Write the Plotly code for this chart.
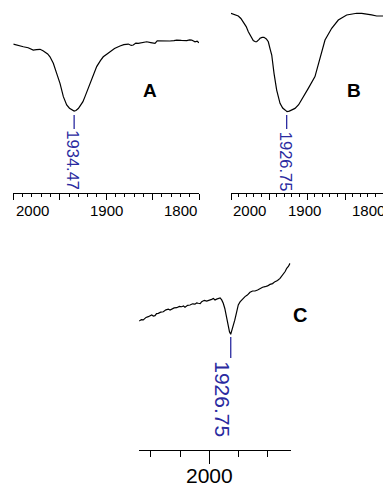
import plotly.graph_objects as go

# ---------------- data ----------------
# Panel A (wavenumber cm-1, %T arbitrary)
wn_A = [2000, 1995, 1989.2, 1984, 1978.5, 1975, 1971.2, 1968, 1965.9, 1963, 1960.5, 1956.9,
        1953.3, 1949.7, 1946.1, 1942.5, 1939.5, 1937.1, 1934.5, 1932.5, 1930, 1928.2, 1925,
        1922.8, 1917.5, 1914, 1910.2, 1906, 1903.1, 1899, 1895.9, 1891, 1885.1, 1881, 1876.1,
        1873, 1870.8, 1868, 1865.4, 1861, 1856.3, 1852, 1847.4, 1845, 1842.0, 1836, 1831.3,
        1827, 1824.0, 1819, 1813.2, 1810, 1807.9, 1804.3, 1802, 1800]
T_A = [77.1, 76.3, 75.7, 75.2, 74.0, 74.2, 74.4, 73.6, 73.1, 72.0, 70.5, 67.1,
       61.9, 56.7, 49.8, 45.5, 43.8, 42.9, 42.3, 42.6, 43.6, 44.9, 47.2,
       49.8, 56.7, 61.2, 65.4, 68.6, 70.5, 72.0, 73.1, 74.8, 76.1, 76.8, 77.1,
       76.4, 76.6, 77.6, 77.5, 78.0, 78.3, 77.9, 77.5, 78.8, 78.7, 78.5, 78.7,
       78.9, 79.2, 79.0, 78.9, 79.3, 79.2, 78.3, 78.6, 77.8]

# Panel B
wn_B = [2000, 1995, 1990.4, 1987, 1983.8, 1980, 1977.2, 1974, 1970.7, 1968, 1966.2, 1963,
        1961.8, 1959, 1956.6, 1953.5, 1950.9, 1948.5, 1946.4, 1943.4, 1939.9, 1935.5, 1932,
        1928.9, 1926.3, 1923.3, 1919, 1915.8, 1911, 1907.0, 1898.3, 1889.5, 1882.9, 1876.3,
        1867.5, 1858.8, 1847.8, 1840, 1834.6, 1828, 1821.4, 1815, 1808.3, 1800]
T_B = [93.1, 92.5, 91.7, 90.4, 88.7, 86.2, 83.5, 80.8, 78.9, 78.3, 78.3, 79.5,
       80.1, 80.6, 80.6, 79.8, 78.3, 74.5, 71.4, 61.9, 53.2, 46.3, 43.9,
       42.9, 42.0, 42.3, 43.0, 43.7, 45.6, 48.1, 54.1, 60.2, 70.5, 79.2,
       85.3, 89.6, 92.2, 92.9, 93.1, 93.0, 92.7, 92.3, 91.7, 91.7]

# Panel C
wn_C = [2239, 2232, 2225.3, 2216, 2208.2, 2202, 2196.6, 2191, 2185.4, 2180, 2174.1, 2166,
        2157.0, 2148, 2140.0, 2134, 2128.3, 2120, 2111.3, 2102, 2094.2, 2088, 2082.9, 2074,
        2065.8, 2057, 2048.8, 2043, 2037.5, 2031, 2025.9, 2017, 2008.8, 2000, 1991.8, 1986,
        1980.5, 1975, 1969.2, 1963, 1957.6, 1952.3, 1947, 1942.9, 1939, 1935.1, 1931, 1926.9,
        1922, 1918.0, 1913, 1908.8, 1905, 1901.0, 1895, 1889.3, 1884, 1878.0, 1870, 1861.0,
        1852, 1843.9, 1835, 1826.8, 1818, 1809.7, 1801, 1792.6, 1784, 1775.6, 1767, 1758.5,
        1753, 1747.3, 1741, 1735.6, 1730, 1724.4]
T_C = [66.1, 66.8, 66.6, 67.9, 68.3, 68.9, 69.2, 68.6, 68.8, 69.9, 70.0, 70.6,
       70.8, 71.8, 72.2, 71.7, 72.1, 72.8, 72.9, 73.6, 73.4, 73.8, 73.1, 74.1,
       74.3, 74.9, 74.7, 75.4, 75.2, 75.0, 76.0, 76.7, 76.3, 76.6, 77.2, 77.6,
       76.9, 77.3, 77.7, 77.9, 76.9, 75.2, 72.5, 69.2, 66.0, 63.1, 60.5, 59.2,
       61.5, 63.1, 66.5, 69.2, 72.0, 74.3, 75.9, 76.9, 77.4, 78.6, 79.4, 80.8,
       81.5, 81.5, 82.0, 82.9, 83.4, 83.7, 84.1, 84.9, 85.3, 86.3, 86.9, 88.0,
       89.0, 90.6, 91.5, 93.2, 94.1, 95.7]

peak_A = 1934.47
peak_B = 1926.75
peak_C = 1926.75
tick_labels_AB = [2000, 1900, 1800]
tick_labels_C = [2000]
panel_labels = ["A", "B", "C"]

# ---------------- layout helpers ----------------
W, H = 383, 483
def px(x):
    return x / W
def py(y):
    return 1 - y / H

FONT = "Liberation Sans, Arial, Helvetica, sans-serif"
BLUE = "#2a2aa0"

fig = go.Figure()
fig.add_trace(go.Scatter(x=wn_A, y=T_A, xaxis="x", yaxis="y", mode="lines",
                         line=dict(color="black", width=1.2), showlegend=False))
fig.add_trace(go.Scatter(x=wn_B, y=T_B, xaxis="x2", yaxis="y2", mode="lines",
                         line=dict(color="black", width=1.2), showlegend=False))
fig.add_trace(go.Scatter(x=wn_C, y=T_C, xaxis="x3", yaxis="y3", mode="lines",
                         line=dict(color="black", width=1.2), showlegend=False))

def xax(domain, rng, anchor, dtick, tlen, minor_dtick, minor_len, tickvals=None):
    d = dict(domain=domain, range=rng, anchor=anchor, showgrid=False, zeroline=False,
             showline=True, linecolor="black", linewidth=1, ticks="outside",
             ticklen=tlen, tickwidth=1, tickcolor="black", showticklabels=False,
             minor=dict(dtick=minor_dtick, tick0=2000, ticklen=minor_len, tickwidth=1,
                        tickcolor="black", ticks="outside", showgrid=False))
    if tickvals is not None:
        d["tickvals"] = tickvals
    else:
        d["dtick"] = dtick
        d["tick0"] = 2000
    return d

def yax(domain, anchor):
    return dict(domain=domain, range=[0, 100], anchor=anchor, visible=False)

ax_y_AB = 192.5
ax_y_C = 449.5
fig.update_layout(
    width=W, height=H, margin=dict(l=0, r=0, t=0, b=0),
    paper_bgcolor="white", plot_bgcolor="rgba(0,0,0,0)",
    xaxis=xax([px(13.3), px(199)], [2000, 1800], "y", 50, 6, 10, 3),
    yaxis=yax([py(ax_y_AB), 1], "x"),
    xaxis2=xax([px(231), px(383)], [2000, 1800], "y2", 50, 6, 10, 3),
    yaxis2=yax([py(ax_y_AB), 1], "x2"),
    xaxis3=xax([px(139), px(290.7)], [2240, 1722], "y3", None, 13, 100, 6, tickvals=[2000]),
    yaxis3=yax([py(ax_y_C), py(255)], "x3"),
)

ann = []
# tick labels
for v in tick_labels_AB:
    xa = "left" if v == 2000 else ("right" if v == 1800 else "center")
    ann.append(dict(x=v, xref="x", y=py(210.5), yref="paper", text=str(v), showarrow=False,
                    xanchor=xa, yanchor="middle", xshift=1 if v == 2000 else 0,
                    font=dict(family=FONT, size=15, color="black")))
    sh = 0
    if v == 1900:
        sh = -3
    if v == 1800:
        sh = 4
    ann.append(dict(x=v, xref="x2", y=py(210.5), yref="paper", text=str(v), showarrow=False,
                    xanchor=xa, yanchor="middle", xshift=sh,
                    font=dict(family=FONT, size=15, color="black")))
for v in tick_labels_C:
    ann.append(dict(x=v, xref="x3", y=py(475), yref="paper", text=str(v), showarrow=False,
                    xanchor="center", yanchor="middle",
                    font=dict(family=FONT, size=21, color="black")))

# panel letters
for lab, (cx, cy, fs) in zip(panel_labels, [(150, 90, 19), (353.5, 90, 19), (300, 315, 20)]):
    ann.append(dict(x=px(cx), y=py(cy), xref="paper", yref="paper", text="<b>%s</b>" % lab,
                    showarrow=False, xanchor="center", yanchor="middle",
                    font=dict(family=FONT, size=fs, color="black")))

# peak labels
for pk, xr, cy, fs, xs in [(peak_A, "x", 160.5, 16.5, -1), (peak_B, "x2", 161.5, 16.5, 0),
                           (peak_C, "x3", 399, 21, -8)]:
    ann.append(dict(x=pk, xref=xr, y=py(cy), yref="paper", text="%.2f" % pk, textangle=90,
                    showarrow=False, xanchor="center", yanchor="middle", xshift=xs,
                    font=dict(family=FONT, size=fs, color=BLUE)))
fig.update_layout(annotations=ann)

shapes = []
for pk, xr, y0, y1 in [(peak_A, "x", 115, 129), (peak_B, "x2", 115, 129), (peak_C, "x3", 337, 358)]:
    shapes.append(dict(type="line", xref=xr, yref="paper", x0=pk, x1=pk, y0=py(y0), y1=py(y1),
                       line=dict(color=BLUE, width=1.3)))
fig.update_layout(shapes=shapes)

fig.write_html("out.html", config={"displayModeBar": False, "staticPlot": True},
               post_script="document.body.style.margin='0';document.body.style.overflow='hidden';")
